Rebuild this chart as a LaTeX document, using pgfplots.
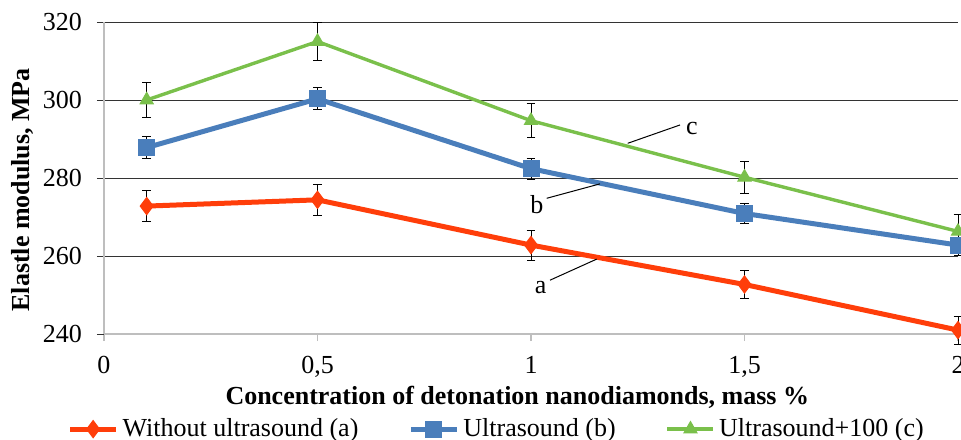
\documentclass[border=0pt]{standalone}
\usepackage{pgfplots}
\pgfplotsset{compat=1.18}
\usepackage{fontspec}
\setmainfont{Liberation Serif}
\definecolor{cred}{RGB}{255,62,10}
\definecolor{cblue}{RGB}{74,126,187}
\definecolor{cgreen}{RGB}{122,192,75}
\definecolor{axgray}{RGB}{190,190,190}
\begin{document}
\fontsize{13bp}{15.6bp}\selectfont
\begin{tikzpicture}
\begin{axis}[
  at={(0,0)}, anchor=south west,
  width=427bp, height=156bp, scale only axis,
  xmin=0, xmax=2, ymin=240, ymax=320,
  axis x line*=bottom, axis y line*=left,
  axis line style={axgray, line width=0.8bp, -},
  xtick={0,0.5,1,1.5,2},
  xticklabels={0,{0,5},1,{1,5},2},
  ytick={260,280,300,320},
  extra y ticks={240},
  extra y tick style={grid=none, tick style={axgray}},
  ymajorgrids,
  grid style={black!80, line width=0.5bp},
  tick align=outside,
  major tick length=3.5bp,
  x tick style={axgray, line width=0.8bp},
  y tick style={black!80, line width=0.5bp},
  /pgf/number format/assume math mode=true,
  xticklabel style={yshift=-3bp},
  yticklabel style={xshift=-3bp},
  clip=false,
  xlabel={\bfseries Concentration of detonation nanodiamonds, mass \%},
  ylabel={\bfseries Elastle modulus, MPa},
  xlabel style={at={(axis description cs:0.484,-0.202)}, anchor=center},
  ylabel style={at={(axis description cs:-0.096,0.462)}, anchor=center},
  legend columns=3,
  legend style={draw=none, fill=none, at={(axis description cs:0.461,-0.305)}, anchor=center,
    /tikz/every even column/.append style={column sep=23bp},
    /tikz/every odd column/.append style={column sep=0bp},
    inner sep=0pt, nodes={inner sep=2bp}},
  legend image code/.code={\draw[#1, mark repeat=2, mark phase=2] plot coordinates {(0bp,0bp) (11.5bp,0bp) (23bp,0bp)};},
  error bars/y dir=both, error bars/y explicit,
  error bars/error bar style={black, line width=0.5bp, solid},
  error bars/error mark options={rotate=90, mark size=2.2bp, black, line width=0.5bp},
]
\addplot[cred, line width=2.5bp, mark=diamond*, mark size=4.3bp, mark options={solid, fill=cred, draw=cred, line width=0.5bp}]
  coordinates {(0.1,272.8) +- (0,3.9) (0.5,274.4) +- (0,4.0) (1,262.8) +- (0,3.85) (1.5,252.7) +- (0,3.7) (2,241.0) +- (0,3.6)};
\addlegendentry{Without ultrasound (a)}
\addplot[cblue, line width=2.5bp, mark=square*, mark size=4bp, mark options={solid, fill=cblue, draw=cblue, line width=0.5bp}]
  coordinates {(0.1,287.8) +- (0,2.77) (0.5,300.3) +- (0,2.86) (1,282.4) +- (0,2.7) (1.5,270.9) +- (0,2.56) (2,262.8) +- (0,2.6)};
\addlegendentry{Ultrasound (b)}
\addplot[cgreen, line width=1.7bp, mark=triangle*, mark size=3.8bp, mark options={solid, fill=cgreen, draw=cgreen, line width=0.5bp}]
  coordinates {(0.1,300.0) +- (0,4.5) (0.5,315.0) +- (0,4.8) (1,294.7) +- (0,4.4) (1.5,280.2) +- (0,4.1) (2,266.3) +- (0,4.3)};
\addlegendentry{Ultrasound+100 (c)}
\draw[black, line width=0.5bp] (axis cs:1.2265,288.9) -- (axis cs:1.349,293.6);
\node at (axis cs:1.377,292.8) {c};
\draw[black, line width=0.5bp] (axis cs:1.0368,274.8) -- (axis cs:1.1616,278.5);
\node at (axis cs:1.014,273.3) {b};
\draw[black, line width=0.5bp] (axis cs:1.0445,253.8) -- (axis cs:1.1538,259.2);
\node at (axis cs:1.0227,251.8) {a};
\end{axis}
\pgfresetboundingbox
\useasboundingbox (-52bp,-53bp) rectangle (428.5bp,167bp);
\end{tikzpicture}
\end{document}
